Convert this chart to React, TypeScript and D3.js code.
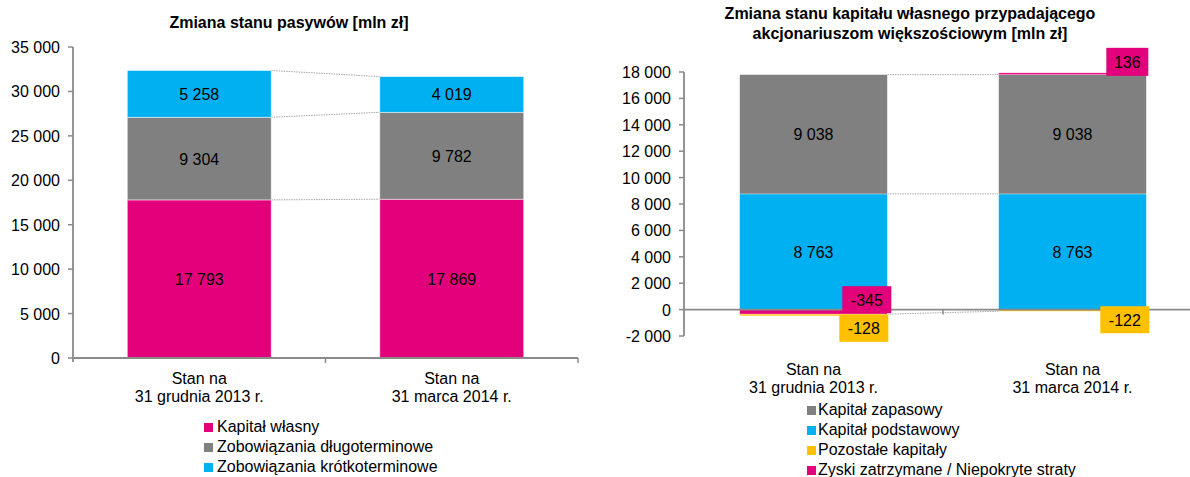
import * as d3 from 'd3';

// categories (two text lines each)
const categories = ['2013', '2014'];
const categoryLines = [
  ['Stan na', '31 grudnia 2013 r.'],
  ['Stan na', '31 marca 2014 r.'],
];

// left chart: liabilities
const leftTitle = ['Zmiana stanu pasywów [mln zł]'];
const leftNames = ['Kapitał własny', 'Zobowiązania długoterminowe', 'Zobowiązania krótkoterminowe'];
const kapitalWlasny = [17793, 17869];
const zobDlugo = [9304, 9782];
const zobKrotko = [5258, 4019];
const leftTicks = [0, 5000, 10000, 15000, 20000, 25000, 30000, 35000];

// right chart: equity
const rightTitle = ['Zmiana stanu kapitału własnego przypadającego', 'akcjonariuszom większościowym [mln zł]'];
const rightLegend = ['Kapitał zapasowy', 'Kapitał podstawowy', 'Pozostałe kapitały', 'Zyski zatrzymane / Niepokryte straty'];
const kapZapasowy = [9038, 9038];
const kapPodstawowy = [8763, 8763];
const pozostale = [-128, -122];
const zyski = [-345, 136];
const rightTicks = [-2000, 0, 2000, 4000, 6000, 8000, 10000, 12000, 14000, 16000, 18000];

const PINK = '#E3007B';
const BLUE = '#00B0F0';
const GRAY = '#808080';
const YELLOW = '#FFC000';
const AXIS = '#8A8A8A';
const FONT = '"Liberation Sans", Arial, sans-serif';
const FS = 16;

const loc = d3.formatLocale({ decimal: ',', thousands: ' ', grouping: [3], currency: ['', ''], minus: '-' });
const fmt = loc.format(',d');

type Row = { cat: string; [k: string]: any };

function LeftChart() {
  const x = d3.scaleBand<string>().domain(categories).range([73, 578]).paddingInner(0.43).paddingOuter(0.215);
  const y = d3.scaleLinear().domain([0, 35000]).range([358, 47]);
  const keys = ['kw', 'zd', 'zk'];
  const colors = [PINK, GRAY, BLUE];
  const rows: Row[] = categories.map((c, i) => ({ cat: c, kw: kapitalWlasny[i], zd: zobDlugo[i], zk: zobKrotko[i] }));
  const stacked = d3.stack<Row>().keys(keys)(rows);
  const bw = x.bandwidth();
  const x0 = x(categories[0])!;
  const x1 = x(categories[1])!;
  const mid = (x0 + bw + x1) / 2;

  return (
    <g>
      {leftTitle.map((t, i) => (
        <text key={i} x={289} y={28 + i * 19} textAnchor="middle" fontWeight="bold" fontSize={16} fontFamily={FONT}>{t}</text>
      ))}
      {/* connectors */}
      {stacked.map((s) => (
        <line key={'c' + s.key} x1={x0 + bw} x2={x1} y1={y(s[0][1])} y2={y(s[1][1])}
          stroke="#A6A6A6" strokeWidth={1} strokeDasharray="1.5 1" />
      ))}
      {stacked.map((s, si) =>
        s.map((d, i) => (
          <g key={s.key + i}>
            <rect x={x(categories[i])!} width={bw} y={y(d[1])} height={y(d[0]) - y(d[1])} fill={colors[si]}
              stroke="#ffffff" strokeOpacity={0.6} strokeWidth={0.8} />
            <text x={x(categories[i])! + bw / 2} y={(y(d[0]) + y(d[1])) / 2 + 6} textAnchor="middle"
              fontSize={FS} fontFamily={FONT}>{fmt(d.data[s.key])}</text>
          </g>
        ))
      )}
      {/* y axis */}
      <line x1={73} x2={73} y1={47} y2={362} stroke={AXIS} strokeWidth={1.8} />
      {leftTicks.map((t) => (
        <g key={t}>
          <line x1={68} x2={73} y1={y(t)} y2={y(t)} stroke={AXIS} strokeWidth={1.5} />
          <text x={60} y={y(t) + 6} textAnchor="end" fontSize={FS} fontFamily={FONT}>{fmt(t)}</text>
        </g>
      ))}
      {/* x axis */}
      <line x1={73} x2={578} y1={358} y2={358} stroke={AXIS} strokeWidth={1.8} />
      {[mid, 578].map((px, i) => (
        <line key={i} x1={px} x2={px} y1={358} y2={363} stroke={AXIS} strokeWidth={1.5} />
      ))}
      {categoryLines.map((lines, i) =>
        lines.map((l, j) => (
          <text key={i + '-' + j} x={x(categories[i])! + bw / 2} y={384 + j * 18} textAnchor="middle" fontSize={FS} fontFamily={FONT}>{l}</text>
        ))
      )}
      {/* legend */}
      {leftNames.map((n, i) => (
        <g key={n}>
          <rect x={204} y={423 + i * 20} width={9} height={9} fill={colors[i]} />
          <text x={217} y={432 + i * 20} fontSize={FS} fontFamily={FONT}>{n}</text>
        </g>
      ))}
    </g>
  );
}

function RightChart() {
  const x = d3.scaleBand<string>().domain(categories).range([684, 1202]).paddingInner(0.43).paddingOuter(0.215);
  const y = d3.scaleLinear().domain([-2000, 18000]).range([336, 72]);
  const keys = ['pod', 'zap', 'zys', 'poz'];
  const colorOf: Record<string, string> = { pod: BLUE, zap: GRAY, zys: PINK, poz: YELLOW };
  const rows: Row[] = categories.map((c, i) => ({ cat: c, pod: kapPodstawowy[i], zap: kapZapasowy[i], zys: zyski[i], poz: pozostale[i] }));
  const stacked = d3.stack<Row>().keys(keys).offset(d3.stackOffsetDiverging)(rows);
  const bw = x.bandwidth();
  const x0 = x(categories[0])!;
  const x1 = x(categories[1])!;
  const get = (k: string) => stacked.find((s) => s.key === k)!;
  const pod = get('pod');
  const zap = get('zap');
  const zys = get('zys');
  const poz = get('poz');

  // connector levels between the two bars
  const connectors: [number, number][] = [
    [pod[0][1], pod[1][1]],
    [zap[0][1], zap[1][1]],
    [zys[0][0], poz[1][0]],
  ];

  // small value boxes at the right edge of the bars
  const boxes = [
    { v: zyski[0], fill: PINK, right: x0 + bw + 4, top: y(zys[0][0]) - 28, w: 49, h: 27 },
    { v: pozostale[0], fill: YELLOW, right: x0 + bw + 1, top: y(poz[0][0]) - 1, w: 49, h: 27 },
    { v: zyski[1], fill: PINK, right: x1 + bw + 2, top: y(zys[1][1]) - 25, w: 42, h: 28 },
    { v: pozostale[1], fill: YELLOW, right: x1 + bw + 3, top: y(poz[1][0]) - 5, w: 49, h: 27 },
  ];

  return (
    <g>
      {rightTitle.map((t, i) => (
        <text key={i} x={910} y={19 + i * 19.5} textAnchor="middle" fontWeight="bold" fontSize={16} fontFamily={FONT}>{t}</text>
      ))}
      {connectors.map((c, i) => (
        <line key={'c' + i} x1={x0 + bw} x2={x1} y1={y(c[0])} y2={y(c[1])}
          stroke="#A6A6A6" strokeWidth={1} strokeDasharray="1.5 1" />
      ))}
      {stacked.map((s) =>
        s.map((d, i) => (
          <rect key={s.key + i} x={x(categories[i])!} width={bw} y={y(Math.max(d[0], d[1]))}
            height={Math.abs(y(d[0]) - y(d[1]))} fill={colorOf[s.key]}
            stroke="#ffffff" strokeOpacity={0.5} strokeWidth={0.6} />
        ))
      )}
      {[pod, zap].map((s) =>
        s.map((d, i) => (
          <text key={'t' + s.key + i} x={x(categories[i])! + bw / 2} y={(y(d[0]) + y(d[1])) / 2 + 6}
            textAnchor="middle" fontSize={FS} fontFamily={FONT}>{fmt(d.data[s.key])}</text>
        ))
      )}
      {/* axes */}
      <line x1={684} x2={684} y1={72} y2={336} stroke={AXIS} strokeWidth={1.8} />
      {rightTicks.map((t) => (
        <g key={t}>
          <line x1={679} x2={684} y1={y(t)} y2={y(t)} stroke={AXIS} strokeWidth={1.5} />
          <text x={671} y={y(t) + 6} textAnchor="end" fontSize={FS} fontFamily={FONT}>{fmt(t)}</text>
        </g>
      ))}
      <line x1={684} x2={1202} y1={y(0)} y2={y(0)} stroke={AXIS} strokeWidth={1.8} />
      <line x1={(x0 + bw + x1) / 2} x2={(x0 + bw + x1) / 2} y1={y(0)} y2={y(0) + 5} stroke={AXIS} strokeWidth={1.5} />
      {boxes.map((b, i) => (
        <g key={'b' + i}>
          <rect x={b.right - b.w} y={b.top} width={b.w} height={b.h} fill={b.fill} />
          <text x={b.right - b.w / 2} y={b.top + b.h / 2 + 6} textAnchor="middle" fontSize={FS} fontFamily={FONT}>{fmt(b.v)}</text>
        </g>
      ))}
      {categoryLines.map((lines, i) =>
        lines.map((l, j) => (
          <text key={i + '-' + j} x={x(categories[i])! + bw / 2} y={375 + j * 18} textAnchor="middle" fontSize={FS} fontFamily={FONT}>{l}</text>
        ))
      )}
      {rightLegend.map((n, i) => {
        const c = [GRAY, BLUE, YELLOW, PINK][i];
        return (
          <g key={n}>
            <rect x={807} y={406 + i * 20} width={9} height={9} fill={c} />
            <text x={818} y={415 + i * 20} fontSize={FS} fontFamily={FONT}>{n}</text>
          </g>
        );
      })}
    </g>
  );
}

export default function App() {
  return (
    <svg width={1190} height={477} viewBox="0 0 1190 477"
      style={{ position: 'absolute', left: 0, top: 0, background: '#fff', display: 'block' }}>
      <rect width={1190} height={477} fill="#fff" />
      <LeftChart />
      <RightChart />
    </svg>
  );
}
